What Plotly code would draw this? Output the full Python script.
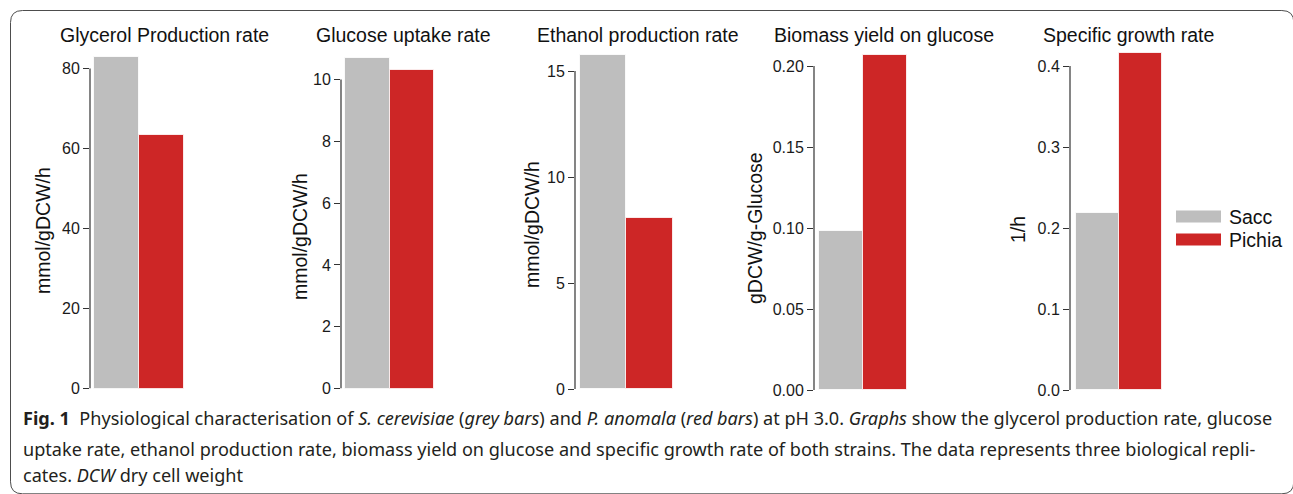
import plotly.graph_objects as go

# ---------------- data ----------------
strains = ["Sacc", "Pichia"]
panel_titles = ["Glycerol Production rate", "Glucose uptake rate", "Ethanol production rate",
                "Biomass yield on glucose", "Specific growth rate"]
y_titles = ["mmol/gDCW/h", "mmol/gDCW/h", "mmol/gDCW/h", "gDCW/g-Glucose", "1/h"]
glycerol = [83.0, 63.5]
glucose = [10.7, 10.3]
ethanol = [15.75, 8.05]
biomass = [0.098, 0.207]
growth = [0.2185, 0.416]
series = [glycerol, glucose, ethanol, biomass, growth]
tick_vals = [[0, 20, 40, 60, 80], [0, 2, 4, 6, 8, 10], [0, 5, 10, 15],
             [0.0, 0.05, 0.10, 0.15, 0.20], [0.0, 0.1, 0.2, 0.3, 0.4]]
tick_formats = ["d", "d", "d", ".2f", ".1f"]
caption_lines = [
    "<b>Fig. 1</b>  Physiological characterisation of <i>S. cerevisiae</i> (<i>grey bars</i>) and <i>P. anomala</i> (<i>red bars</i>) at pH 3.0. <i>Graphs</i> show the glycerol production rate, glucose",
    "uptake rate, ethanol production rate, biomass yield on glucose and specific growth rate of both strains. The data represents three biological repli-",
    "cates. <i>DCW</i> dry cell weight",
]
colors = ["#bebebe", "#cd2626"]

# ---------------- layout constants (page pixels) ----------------
W, H = 1293, 494
axis_x = [90, 341, 575, 814, 1070]
bar_px = [45, 44.5, 46.5, 44, 43]
gap_px = [4, 4, 4.5, 5, 6]
y0_px = [388.5, 388.5, 389, 390, 390]
toptick_px = [68.5, 79.5, 71, 66, 66]
dom_top_px = 45
dom_w_px = 170
title_x = [164, 403, 638, 884, 1128]
ytitle_x = [43, 300, 532, 755, 1018]
ytitle_y = [231, 237, 225, 228, 230]

def px(x):
    return x / W

def py(y):
    return 1 - y / H

AX_FONT = "Liberation Sans, Arial, sans-serif"
fig = go.Figure()
annotations = []
shapes = []

for i in range(5):
    n = "" if i == 0 else str(i + 1)
    xa, ya = "x" + n, "y" + n
    for j, s in enumerate(strains):
        fig.add_trace(go.Bar(
            x=[j], y=[series[i][j]], width=1, name=s,
            marker=dict(color=colors[j], line=dict(color="rgba(255,255,255,0.8)", width=1)),
            xaxis=xa, yaxis=ya, showlegend=False))
    x_start = -0.5 - gap_px[i] / bar_px[i]
    x_end = x_start + dom_w_px / bar_px[i]
    top_val = tick_vals[i][-1]
    ppu = (y0_px[i] - toptick_px[i]) / top_val
    y_end = (y0_px[i] - dom_top_px) / ppu
    fig.update_layout(**{
        "xaxis" + n: dict(domain=[px(axis_x[i]), px(axis_x[i] + dom_w_px)], range=[x_start, x_end],
                          visible=False, anchor=ya, automargin=False),
        "yaxis" + n: dict(domain=[py(y0_px[i]), py(dom_top_px)], range=[0, y_end], anchor=xa,
                          tickvals=tick_vals[i], tickformat=tick_formats[i], automargin=False,
                          showgrid=False, zeroline=False, showline=False,
                          ticks="outside", ticklen=6, tickwidth=1, tickcolor="#333333",
                          tickfont=dict(family=AX_FONT, size=16, color="#1a1a1a")),
    })
    # R-style axis line spanning the tick range only
    shapes.append(dict(type="line", xref=xa + " domain", yref=ya, x0=0, x1=0,
                       y0=tick_vals[i][0], y1=tick_vals[i][-1],
                       line=dict(color="#333333", width=1.2)))
    annotations.append(dict(text=panel_titles[i], x=px(title_x[i]), y=py(35), xref="paper", yref="paper",
                            showarrow=False, xanchor="center", yanchor="middle",
                            font=dict(family=AX_FONT, size=19.5, color="#111111")))
    annotations.append(dict(text=y_titles[i], x=px(ytitle_x[i]), y=py(ytitle_y[i]), xref="paper", yref="paper",
                            showarrow=False, xanchor="center", yanchor="middle", textangle=-90,
                            font=dict(family=AX_FONT, size=19.5, color="#111111")))

# legend (drawn manually to get wide R-style keys)
leg_y = [216.5, 239.5]
for j, s in enumerate(strains):
    shapes.append(dict(type="rect", xref="paper", yref="paper",
                       x0=px(1176), x1=px(1221), y0=py(leg_y[j] - 6), y1=py(leg_y[j] + 6),
                       fillcolor=colors[j], line=dict(width=0)))
    annotations.append(dict(text=s, x=px(1227), y=py(leg_y[j]), xref="paper", yref="paper",
                            showarrow=False, xanchor="left", yanchor="middle",
                            font=dict(family=AX_FONT, size=19.5, color="#111111")))

# caption
cap_y = [418, 449, 475]
for k, line in enumerate(caption_lines):
    annotations.append(dict(text=line, x=px(21), y=py(cap_y[k]), xref="paper", yref="paper",
                            showarrow=False, xanchor="left", yanchor="middle", align="left",
                            font=dict(family="Noto Sans, Open Sans, sans-serif", size=18.1, color="#231f20")))

# rounded border
r = 12
x0b, x1b, y0b, y1b = 10.5, 1293.8, 10.5, 493.8
path = (f"M {px(x0b)},{py(y1b - r)} L {px(x0b)},{py(y0b + r)} "
        f"Q {px(x0b)},{py(y0b)} {px(x0b + r)},{py(y0b)} "
        f"L {px(x1b - r)},{py(y0b)} Q {px(x1b)},{py(y0b)} {px(x1b)},{py(y0b + r)} "
        f"L {px(x1b)},{py(y1b - r)} Q {px(x1b)},{py(y1b)} {px(x1b - r)},{py(y1b)} "
        f"L {px(x0b + r)},{py(y1b)} Q {px(x0b)},{py(y1b)} {px(x0b)},{py(y1b - r)} Z")
shapes.append(dict(type="path", xref="paper", yref="paper", path=path,
                   line=dict(color="#4d4d4d", width=1), fillcolor="rgba(0,0,0,0)"))

fig.update_layout(width=W, height=H, margin=dict(l=0, r=0, t=0, b=0, pad=0, autoexpand=False),
                  paper_bgcolor="white", plot_bgcolor="white", showlegend=False,
                  bargap=0, annotations=annotations, shapes=shapes)

fig.write_html("out.html", config={"displayModeBar": False},
               post_script="document.body.style.margin='0';document.body.style.overflow='hidden';")
